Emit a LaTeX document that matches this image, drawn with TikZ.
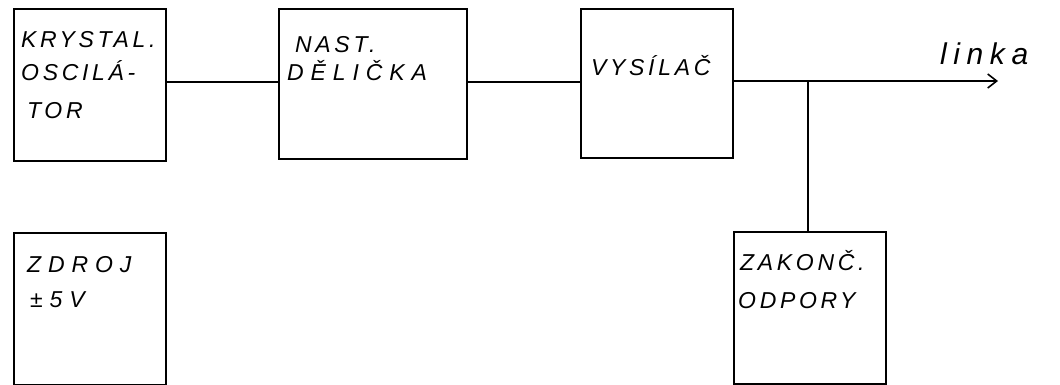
\documentclass[tikz,border=0pt]{standalone}
\usepackage{fontspec}
\setmainfont{Liberation Sans}
\newfontfamily\hand[LetterSpace=16]{Liberation Sans}
\newfontfamily\handwide[LetterSpace=30]{Liberation Sans}
\newfontfamily\handlow[LetterSpace=22]{Liberation Sans}
\usetikzlibrary{arrows.meta}
\begin{document}
\begin{tikzpicture}[x=1pt,y=-1pt,
  box/.style={draw, line width=2pt, rectangle, inner sep=0pt, anchor=north west},
  txt/.style={anchor=base west, inner sep=0pt, font=\hand\itshape\fontsize{23}{35}\selectfont, align=left},
  wide/.style={font=\handwide\itshape\fontsize{23}{35}\selectfont},
  wire/.style={line width=1.8pt}]
\useasboundingbox (0,0) rectangle (1060,384);
% boxes
\node[box, minimum width=152pt, minimum height=152pt] (k) at (13,8) {};
\node[box, minimum width=188pt, minimum height=150pt] (n) at (278,8) {};
\node[box, minimum width=152pt, minimum height=149pt] (v) at (580,8) {};
\node[box, minimum width=152pt, minimum height=152pt] (zd) at (13,232) {};
\node[box, minimum width=152pt, minimum height=152pt] (zk) at (733,231) {};
% texts
\node[txt] (tk1) at (21,47) {KRYSTAL.};
\node[txt] (tk2) at (21,80) {OSCILÁ-};
\node[txt] (tk3) at (27,118) {TOR};
\node[txt] (tn1) at (295,52) {NAST.};
\node[txt, wide] (tn2) at (287,80) {DĚLIČKA};
\node[txt] (tv) at (591,75) {VYSÍLAČ};
\node[txt, font=\handlow\itshape\fontsize{30}{30}\selectfont] (tl) at (940,64) {linka};
\node[txt, wide] (tz1) at (27,272) {ZDROJ};
\node[txt, wide] (tz2) at (30,307) {±5V};
\node[txt] (tp1) at (740,270) {ZAKONČ.};
\node[txt] (tp2) at (738,308) {ODPORY};
% connectors
\coordinate (j) at (808,81);
\coordinate (out) at (998,81);
\draw[wire] (k.east |- 0,82) -- (n.west |- 0,82);
\draw[wire] (n.east |- 0,82) -- (v.west |- 0,82);
\draw[wire, -{Straight Barb[length=9pt,width=14pt,line width=1.6pt]}] (v.east |- j) -- (out);
\draw[wire] (j) -- (j |- zk.north);
\end{tikzpicture}
\end{document}
